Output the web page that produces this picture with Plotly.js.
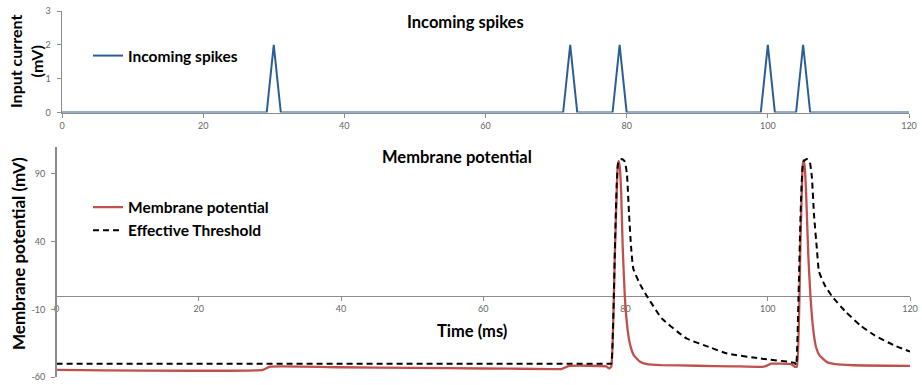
<!DOCTYPE html>
<html>
<head>
<meta charset="utf-8">
<script src="https://cdn.plot.ly/plotly-3.0.1.min.js"></script>
<style>html,body{margin:0;padding:0;background:#fff;}#chart{width:922px;height:385px;}</style>
</head>
<body>
<div id="chart"></div>
<script>
// Incoming spikes (input current, mV) vs time (ms)
const spikeTime  = [0, 29, 30, 31, 71, 72, 73, 78, 79, 80, 99, 100, 101, 104, 105, 106, 120];
const spikeValue = [0,  0,  2,  0,  0,  2,  0,  0,  2,  0,  0,   2,   0,   0,   2,   0,   0];

// Membrane potential (mV) vs time (ms)
const vmTime  = [0, 29, 30, 40, 50, 60, 70, 71, 72, 77.3, 77.7, 78.0, 78.5, 78.9, 79.05, 79.2, 79.4, 79.6, 79.9, 80.3, 80.7, 81.2, 82.1, 83, 85, 90, 95, 99, 99.6, 100.5, 103.3, 103.8, 104.1, 104.6, 104.9, 105.05, 105.2, 105.4, 105.7, 106.0, 106.4, 106.8, 107.3, 108.3, 109.5, 112, 120];
const vmValue = [-54.5, -54.5, -52.2, -52.6, -53.1, -53.5, -53.9, -53.9, -51.7, -52.0, -53.5, -52.0, 30, 95, 99.5, 95, 75, 37, 0, -25, -37, -44, -48.7, -50.2, -51.0, -51.5, -51.9, -52.3, -52.0, -50.0, -50.3, -52.3, -52.0, 40, 95, 100, 95, 75, 30, 0, -25, -38, -44, -48.7, -50.3, -51.1, -51.6];

// Effective threshold (mV) vs time (ms)
const thTime  = [0, 77.8, 78.0, 79.0, 79.5, 79.9, 80.2, 80.5, 80.8, 81.1, 82.1, 83.0, 85.1, 88.6, 91.9, 94.3, 99.0, 103.8, 104.0, 105.0, 105.5, 105.9, 106.2, 106.5, 106.9, 107.2, 108, 109, 111, 113, 115, 117.7, 120];
const thValue = [-50, -50, -50, 99, 101, 99, 90, 60, 35, 20, 8, 0, -16.6, -31.4, -38, -42.5, -46.2, -49.4, -51, 99, 101, 99, 88, 60, 35, 18, 8, 0, -12, -21.6, -29, -36.3, -41];

const xTicks = [0, 20, 40, 60, 80, 100, 120];
const yTicksTop = [0, 1, 2, 3];
const yTicksBottom = [-60, -10, 40, 90];

const FONT = 'Lato, "Open Sans", sans-serif';
const AX = '#8c8c8c';
const TICKFONT = {family: FONT, size: 9, color: '#666'};
const BOLD = (s) => ({family: FONT, size: s, color: '#000', weight: 'bold'});

const traces = [
  {x: spikeTime, y: spikeValue, xaxis: 'x', yaxis: 'y', type: 'scatter', mode: 'lines',
   name: 'Incoming spikes', legend: 'legend2', line: {color: '#2c5d96', width: 2}},
  {x: vmTime, y: vmValue, xaxis: 'x2', yaxis: 'y2', type: 'scatter', mode: 'lines',
   name: 'Membrane potential', legend: 'legend', line: {color: '#c0504d', width: 2.3, shape: 'spline', smoothing: 0.4}},
  {x: thTime, y: thValue, xaxis: 'x2', yaxis: 'y2', type: 'scatter', mode: 'lines',
   name: 'Effective Threshold', legend: 'legend', line: {color: '#000', width: 2, dash: '6px,4px', shape: 'spline', smoothing: 0.4}}
];

const layout = {
  width: 922, height: 385,
  margin: {l: 0, r: 0, t: 0, b: 0},
  paper_bgcolor: '#fff', plot_bgcolor: 'rgba(0,0,0,0)',
  font: {family: FONT},
  showlegend: true,
  xaxis: {domain: [62/922, 909/922], anchor: 'y', range: [0, 120], tickvals: xTicks, ticktext: xTicks.map(String),
          showgrid: false, zeroline: false, showline: true, linecolor: AX, linewidth: 1.5,
          ticks: 'outside', ticklen: 4, tickcolor: AX, tickfont: TICKFONT, layer: 'below traces', fixedrange: true},
  yaxis: {domain: [1 - 112.5/385, 1 - 11/385], anchor: 'x', range: [0, 3], tickvals: yTicksTop, ticktext: yTicksTop.map(String),
          showgrid: false, zeroline: false, showline: true, linecolor: AX, linewidth: 1.5,
          ticks: 'outside', ticklen: 4, tickcolor: AX, tickfont: TICKFONT, ticklabelstandoff: 4, fixedrange: true},
  xaxis2: {domain: [56.5/922, 910/922], anchor: 'free', position: 1 - 295.8/385, range: [0, 120],
           tickvals: xTicks, ticktext: xTicks.map(String),
           showgrid: false, zeroline: false, showline: true, linecolor: AX, linewidth: 1.5,
           ticks: 'outside', ticklen: 4, tickcolor: AX, tickfont: TICKFONT, layer: 'below traces', fixedrange: true},
  yaxis2: {domain: [1 - 377.3/385, 1 - 146.7/385], anchor: 'x2', range: [-60, 110],
           tickvals: yTicksBottom, ticktext: yTicksBottom.map(String),
           showgrid: false, zeroline: false, showline: true, linecolor: AX, linewidth: 1.5,
           ticks: 'outside', ticklen: 4, tickcolor: AX, tickfont: TICKFONT, ticklabelstandoff: 4, fixedrange: true},
  legend2: {x: 88/922, xanchor: 'left', y: 1 - 56/385, yanchor: 'middle', bgcolor: 'rgba(0,0,0,0)',
            font: BOLD(15.5), itemwidth: 30, tracegroupgap: 0},
  legend: {x: 88/922, xanchor: 'left', y: 1 - 219/385, yanchor: 'middle', bgcolor: 'rgba(0,0,0,0)',
           font: BOLD(15.5), itemwidth: 30, tracegroupgap: 0},
  annotations: [
    {text: 'Incoming spikes', xref: 'paper', yref: 'paper', x: 465/922, y: 1 - 22/385, xanchor: 'center', yanchor: 'middle',
     showarrow: false, font: BOLD(16.5)},
    {text: 'Membrane potential', xref: 'paper', yref: 'paper', x: 457/922, y: 1 - 157/385, xanchor: 'center', yanchor: 'middle',
     showarrow: false, font: BOLD(16.5)},
    {text: 'Time (ms)', xref: 'paper', yref: 'paper', x: 472/922, y: 1 - 331/385, xanchor: 'center', yanchor: 'middle',
     showarrow: false, font: BOLD(16.5)},
    {text: 'Input current<br>(mV)', xref: 'paper', yref: 'paper', x: 26/922, y: 1 - 62/385, xanchor: 'center', yanchor: 'middle',
     textangle: -90, showarrow: false, font: BOLD(16)},
    {text: 'Membrane potential (mV)', xref: 'paper', yref: 'paper', x: 18/922, y: 1 - 254/385, xanchor: 'center', yanchor: 'middle',
     textangle: -90, showarrow: false, font: BOLD(17)}
  ]
};

Plotly.newPlot('chart', traces, layout, {staticPlot: true, displayModeBar: false});
</script>
</body>
</html>
